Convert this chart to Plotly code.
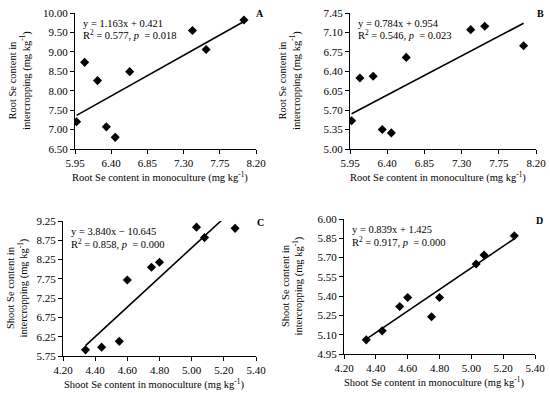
import plotly.graph_objects as go

# ---- data ----
root_mono = [5.97, 6.07, 6.23, 6.34, 6.45, 6.63, 7.41, 7.58, 8.05]
root_inter_A = [7.20, 8.73, 8.26, 7.07, 6.80, 8.49, 9.55, 9.06, 9.82]
root_inter_B = [5.51, 6.28, 6.31, 5.35, 5.29, 6.65, 7.15, 7.21, 6.86]
shoot_mono = [4.34, 4.44, 4.55, 4.60, 4.75, 4.80, 5.03, 5.08, 5.27]
shoot_inter_C = [5.91, 5.98, 6.13, 7.72, 8.05, 8.18, 9.09, 8.82, 9.06]
shoot_inter_D = [5.06, 5.13, 5.32, 5.39, 5.24, 5.39, 5.65, 5.72, 5.87]

fits = {"A": (1.163, 0.421), "B": (0.784, 0.954), "C": (3.840, -10.645), "D": (0.839, 1.425)}
eq_text = {
    "A": ("y = 1.163x + 0.421", "R<sup>2</sup> = 0.577, <i>p</i>  = 0.018"),
    "B": ("y = 0.784x + 0.954", "R<sup>2</sup> = 0.546, <i>p</i>  = 0.023"),
    "C": ("y = 3.840x \u2212 10.645", "R<sup>2</sup> = 0.858, <i>p</i>  = 0.000"),
    "D": ("y = 0.839x + 1.425", "R<sup>2</sup> = 0.917, <i>p</i>  = 0.000"),
}
x_ticks_root = [5.95, 6.40, 6.85, 7.30, 7.75, 8.20]
x_ticks_shoot = [4.20, 4.40, 4.60, 4.80, 5.00, 5.20, 5.40]
y_ticks_A = [6.50, 7.00, 7.50, 8.00, 8.50, 9.00, 9.50, 10.00]
y_ticks_B = [5.00, 5.35, 5.70, 6.05, 6.40, 6.75, 7.10, 7.45]
y_ticks_C = [5.75, 6.25, 6.75, 7.25, 7.75, 8.25, 8.75, 9.25]
y_ticks_D = [4.95, 5.10, 5.25, 5.40, 5.55, 5.70, 5.85, 6.00]

xtitle_root = "Root Se content in monoculture (mg kg<sup>-1</sup>)"
xtitle_shoot = "Shoot Se content in monoculture (mg kg<sup>-1</sup>)"
ytitle_root = "Root Se content in<br>intercropping (mg kg<sup>-1</sup>)"
ytitle_shoot = "Shoot Se content in<br>intercropping (mg kg<sup>-1</sup>)"

W, H = 550, 393
FONT = "Liberation Serif"

# plot-area pixel boxes (left, right, top, bottom) and y-title centre x
boxes = {
    "A": (75, 256, 13, 149),
    "B": (350, 536, 13, 149),
    "C": (63, 256, 221, 356),
    "D": (344, 535, 219, 354),
}
ytitle_x = {"A": 20, "B": 290, "C": 17, "D": 292}
panels = [
    ("A", root_mono, root_inter_A, x_ticks_root, y_ticks_A, xtitle_root, ytitle_root),
    ("B", root_mono, root_inter_B, x_ticks_root, y_ticks_B, xtitle_root, ytitle_root),
    ("C", shoot_mono, shoot_inter_C, x_ticks_shoot, y_ticks_C, xtitle_shoot, ytitle_shoot),
    ("D", shoot_mono, shoot_inter_D, x_ticks_shoot, y_ticks_D, xtitle_shoot, ytitle_shoot),
]

fig = go.Figure()
layout = dict(width=W, height=H, margin=dict(l=0, r=0, t=0, b=0, pad=0, autoexpand=False),
              paper_bgcolor="white", plot_bgcolor="white", showlegend=False,
              font=dict(family=FONT, size=10, color="black"))
annotations = []

for i, (name, xs, ys, xt, yt, xtitle, ytitle) in enumerate(panels, start=1):
    l, r, t, b = boxes[name]
    sfx = "" if i == 1 else str(i)
    xa, ya = "x" + sfx, "y" + sfx
    m, c = fits[name]
    x0, x1 = min(xs), max(xs)
    fig.add_trace(go.Scatter(x=[x0, x1], y=[m * x0 + c, m * x1 + c], mode="lines",
                             line=dict(color="black", width=1.6), xaxis=xa, yaxis=ya,
                             hoverinfo="skip"))
    fig.add_trace(go.Scatter(x=xs, y=ys, mode="markers",
                             marker=dict(symbol="diamond", size=7, color="black"),
                             xaxis=xa, yaxis=ya))
    axis_common = dict(showgrid=False, zeroline=False, showline=True, linecolor="black",
                       linewidth=1, ticks="outside", ticklen=4, tickcolor="black",
                       tickwidth=1, tickfont=dict(family=FONT, size=11, color="black"),
                       tickformat=".2f", automargin=False)
    layout["xaxis" + sfx] = dict(axis_common, domain=[l / W, r / W], anchor=ya,
                                 range=[xt[0], xt[-1]], tickvals=xt)
    layout["yaxis" + sfx] = dict(axis_common, domain=[1 - b / H, 1 - t / H], anchor=xa,
                                 range=[yt[0], yt[-1]], tickvals=yt)
    # x title
    annotations.append(dict(text=xtitle, xref="paper", yref="paper",
                            x=(l + r) / 2 / W - 0.01, y=1 - (b + 28) / H,
                            xanchor="center", yanchor="middle", showarrow=False,
                            font=dict(family=FONT, size=10.5)))
    # y title
    annotations.append(dict(text=ytitle, xref="paper", yref="paper",
                            x=ytitle_x[name] / W, y=1 - (t + b) / 2 / H,
                            xanchor="center", yanchor="middle", textangle=-90,
                            showarrow=False, font=dict(family=FONT, size=10.5)))
    # equation lines
    l1, l2 = eq_text[name]
    annotations.append(dict(text=l1, xref="paper", yref="paper",
                            x=(l + 6) / W, y=1 - (t + 10) / H, xanchor="left",
                            yanchor="middle", showarrow=False,
                            font=dict(family=FONT, size=10.5)))
    annotations.append(dict(text=l2, xref="paper", yref="paper",
                            x=(l + 6) / W, y=1 - (t + 22) / H, xanchor="left",
                            yanchor="middle", showarrow=False,
                            font=dict(family=FONT, size=10.5)))
    # panel letter
    annotations.append(dict(text="<b>" + name + "</b>", xref="paper", yref="paper",
                            x=(r + 4) / W, y=1 - (t + 1) / H, xanchor="center",
                            yanchor="middle", showarrow=False,
                            font=dict(family=FONT, size=10)))

layout["annotations"] = annotations
fig.update_layout(**layout)
fig.write_html("out.html", config={"displayModeBar": False},
               post_script="document.body.style.margin='0';document.body.style.overflow='hidden';")
